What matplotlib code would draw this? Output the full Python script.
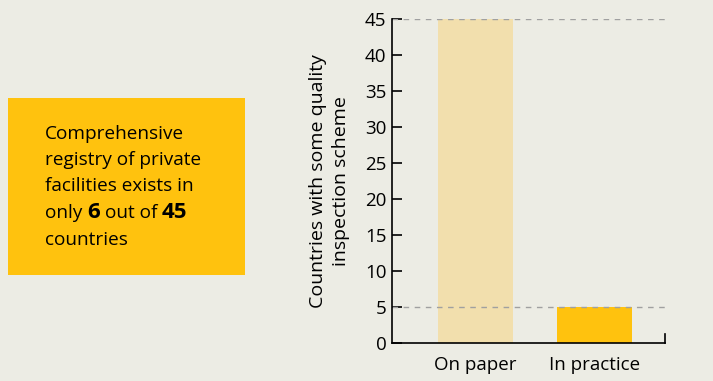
import matplotlib
matplotlib.use("Agg")
import matplotlib.pyplot as plt
from matplotlib.patches import Rectangle

categories = ["On paper", "In practice"]
values = [45, 5]
bar_colors = ["#F2DFAD", "#FFC20E"]
yticks = [0, 5, 10, 15, 20, 25, 30, 35, 40, 45]
ref_lines = [45, 5]

BG = "#ECECE4"
FONT = "Open Sans"
FS = 13.5

fig = plt.figure(figsize=(7.13, 3.81), dpi=100, facecolor=BG)
ax = fig.add_axes([392/713, 1-343/381, (665-392)/713, (343-19)/381])
ax.set_facecolor(BG)

x = list(range(len(categories)))
ax.bar(x, values, width=0.63, color=bar_colors, zorder=1)
for v in ref_lines:
    ax.axhline(v, color="#A0A0A0", linestyle=(0, (4, 4)), linewidth=1, zorder=2)

ax.set_xlim(-0.70, 1.59)
ax.set_ylim(0, 45)
ax.set_yticks(yticks)
ax.set_xticks(x)
ax.set_xticklabels(categories, fontsize=FS, family=FONT)
for lab in ax.get_yticklabels():
    lab.set_fontsize(FS)
    lab.set_family(FONT)
ax.tick_params(axis="y", direction="in", length=7, width=1.2, pad=4)
ax.tick_params(axis="x", length=0, pad=9)
for s in ["top", "right"]:
    ax.spines[s].set_visible(False)
for s in ["left", "bottom"]:
    ax.spines[s].set_linewidth(1.2)
    ax.spines[s].set_color("black")
ax.plot([1, 1], [0, 0.028], transform=ax.transAxes, color="black", lw=1.2, clip_on=False)
ax.set_ylabel("Countries with some quality\ninspection scheme", fontsize=14, family=FONT,
              linespacing=1.3, labelpad=11)

# Yellow text box
fig.patches.append(Rectangle((8/713, 1-275/381), (245-8)/713, (275-98)/381,
                             transform=fig.transFigure, facecolor="#FFC20E", edgecolor="none"))

x0 = 45/713
TFS = 13.7
lines_y = [134, 160, 186, 213, 240]
simple = ["Comprehensive", "registry of private", "facilities exists in", None, "countries"]
for txt, py in zip(simple, lines_y):
    if txt:
        fig.text(x0, 1-py/381, txt, fontsize=TFS, family=FONT, va="center", ha="left")

# mixed-weight line
renderer = fig.canvas.get_renderer()
probe = fig.text(0, 0, "a a", fontsize=TFS, family=FONT)
w_aa = probe.get_window_extent(renderer=renderer).width
probe.set_text("aa")
space_w = w_aa - probe.get_window_extent(renderer=renderer).width
probe.remove()

pieces = [("only", "normal"), ("6", "bold"), ("out of", "normal"), ("45", "bold")]
cx = x0
py = lines_y[3]
for t, w in pieces:
    tt = fig.text(cx, 1-py/381, t, fontsize=TFS if w == "normal" else 16,
                  family=FONT, weight=w, va="center", ha="left")
    bb = tt.get_window_extent(renderer=renderer)
    cx += (bb.width + space_w) / fig.bbox.width

fig.savefig("out.png", dpi=100, facecolor=BG)
